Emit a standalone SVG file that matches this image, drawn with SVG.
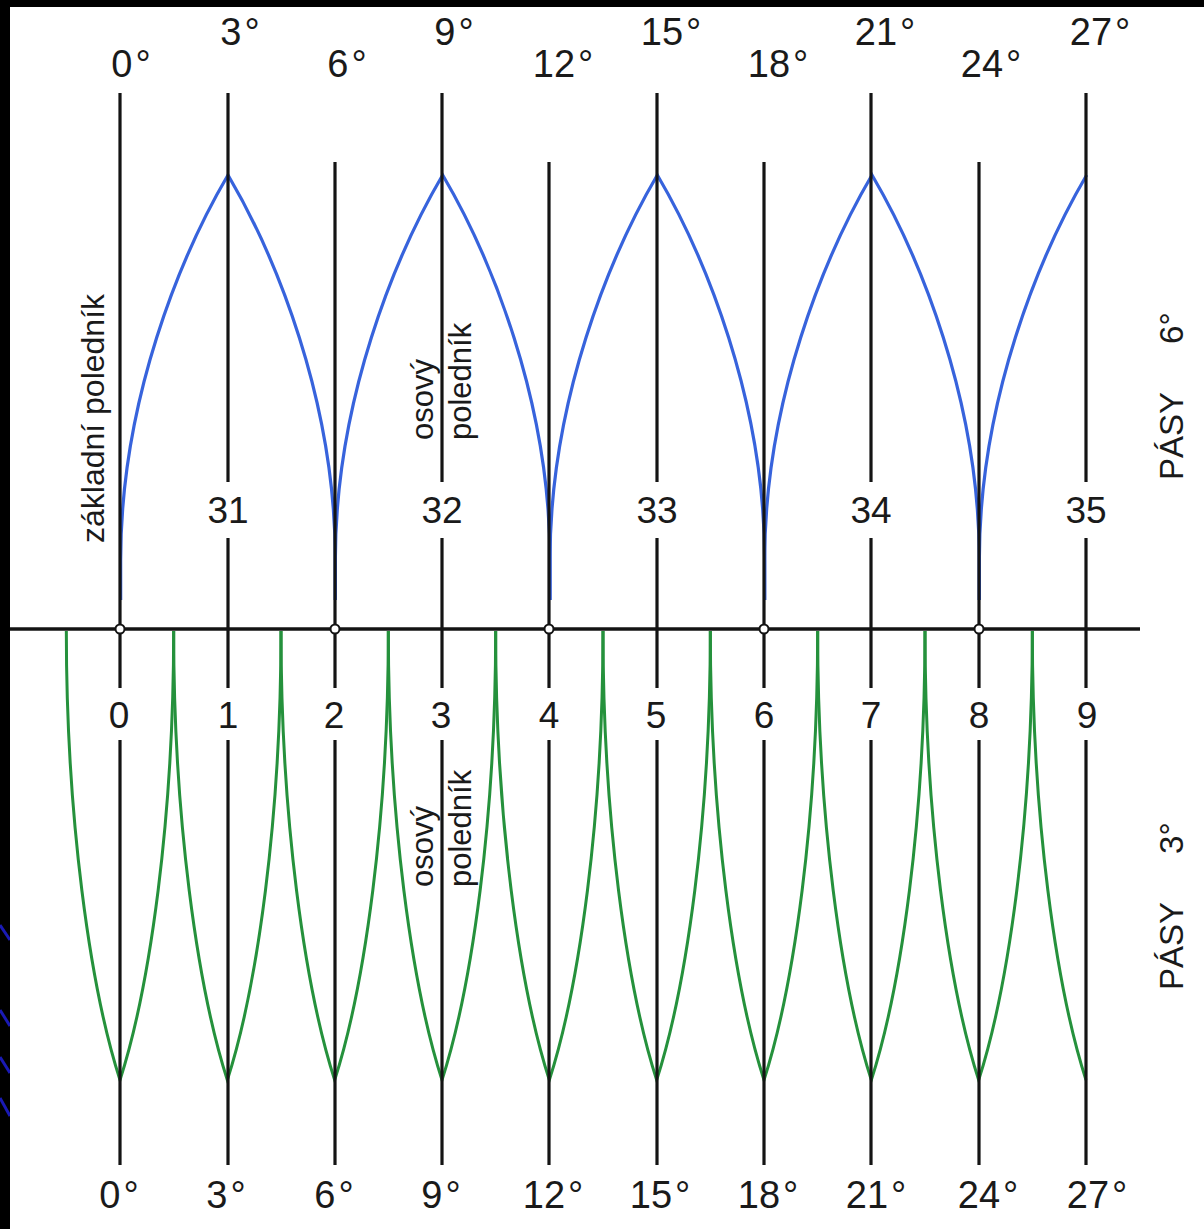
<svg xmlns="http://www.w3.org/2000/svg" xmlns:xlink="http://www.w3.org/1999/xlink" width="1204" height="1229" viewBox="0 0 1204 1229">
<style>
.ln{stroke:#141414;stroke-width:3.2;fill:none}
.ax{stroke:#141414;stroke-width:3.6;fill:none}
.bl{stroke:#3763dc;stroke-width:3.2;fill:none}
.gr{stroke:#25913c;stroke-width:3;fill:none}
.t{font-family:"Liberation Sans",Arial,sans-serif;fill:#1a1a1a}
.deg{font-size:38px;text-anchor:middle}
.num{font-size:37px;text-anchor:middle}
.vt{font-size:31px}
.dot{fill:#fff;stroke:#141414;stroke-width:2}
.deco{stroke:#1a1ab4;stroke-width:3}
</style>
<defs>
<path id="arch" d="M -107.33 600 L -107.33 560 C -107.33 400 -47 255 0 175 C 47 255 107.33 400 107.33 560 L 107.33 600"/>
<path id="archL" d="M -107.33 600 L -107.33 560 C -107.33 400 -47 255 0 175"/>
<path id="vee" d="M -53.67 631 C -53.67 818 -30 987 0 1080 C 30 987 53.67 818 53.67 631"/>
<path id="veeL" d="M -53.67 631 C -53.67 818 -30 987 0 1080"/>
</defs>
<rect x="0" y="0" width="1204" height="1229" fill="#000"/>
<g id="deco">
<line class="deco" x1="0" y1="925" x2="10" y2="940"/>
<line class="deco" x1="0" y1="1010" x2="10" y2="1026"/>
<line class="deco" x1="0" y1="1057" x2="10" y2="1073"/>
<line class="deco" x1="0" y1="1098" x2="10" y2="1116"/>
</g>
<rect x="10" y="7" width="1194" height="1222" fill="#fff"/>

<g id="connectors">
<!-- blue 6° zone boundaries -->
<use href="#arch" class="bl" transform="translate(228 0)"/>
<use href="#arch" class="bl" transform="translate(442.67 0)"/>
<use href="#arch" class="bl" transform="translate(657.33 0)"/>
<use href="#arch" class="bl" transform="translate(872 0)"/>
<use href="#archL" class="bl" transform="translate(1086.67 0)"/>
<!-- green 3° zone boundaries -->
<use href="#vee" class="gr" transform="translate(120 0)"/>
<use href="#vee" class="gr" transform="translate(227.33 0)"/>
<use href="#vee" class="gr" transform="translate(334.67 0)"/>
<use href="#vee" class="gr" transform="translate(442 0)"/>
<use href="#vee" class="gr" transform="translate(549.33 0)"/>
<use href="#vee" class="gr" transform="translate(656.67 0)"/>
<use href="#vee" class="gr" transform="translate(764 0)"/>
<use href="#vee" class="gr" transform="translate(871.33 0)"/>
<use href="#vee" class="gr" transform="translate(978.67 0)"/>
<use href="#veeL" class="gr" transform="translate(1086 0)"/>
<!-- upper vertical meridians -->
<line class="ln" x1="120" y1="93" x2="120" y2="629"/>
<line class="ln" x1="228" y1="93" x2="228" y2="482"/><line class="ln" x1="228" y1="538" x2="228" y2="629"/>
<line class="ln" x1="335" y1="162" x2="335" y2="629"/>
<line class="ln" x1="442" y1="93" x2="442" y2="482"/><line class="ln" x1="442" y1="538" x2="442" y2="629"/>
<line class="ln" x1="549" y1="162" x2="549" y2="629"/>
<line class="ln" x1="657" y1="93" x2="657" y2="482"/><line class="ln" x1="657" y1="538" x2="657" y2="629"/>
<line class="ln" x1="764" y1="162" x2="764" y2="629"/>
<line class="ln" x1="871" y1="93" x2="871" y2="482"/><line class="ln" x1="871" y1="538" x2="871" y2="629"/>
<line class="ln" x1="979" y1="162" x2="979" y2="629"/>
<line class="ln" x1="1086" y1="93" x2="1086" y2="482"/><line class="ln" x1="1086" y1="538" x2="1086" y2="629"/>
<!-- lower ticks and meridians -->
<line class="ln" x1="120" y1="629" x2="120" y2="688"/><line class="ln" x1="120" y1="740" x2="120" y2="1165"/>
<line class="ln" x1="228" y1="629" x2="228" y2="688"/><line class="ln" x1="228" y1="740" x2="228" y2="1165"/>
<line class="ln" x1="335" y1="629" x2="335" y2="688"/><line class="ln" x1="335" y1="740" x2="335" y2="1165"/>
<line class="ln" x1="442" y1="629" x2="442" y2="688"/><line class="ln" x1="442" y1="740" x2="442" y2="1165"/>
<line class="ln" x1="549" y1="629" x2="549" y2="688"/><line class="ln" x1="549" y1="740" x2="549" y2="1165"/>
<line class="ln" x1="657" y1="629" x2="657" y2="688"/><line class="ln" x1="657" y1="740" x2="657" y2="1165"/>
<line class="ln" x1="764" y1="629" x2="764" y2="688"/><line class="ln" x1="764" y1="740" x2="764" y2="1165"/>
<line class="ln" x1="871" y1="629" x2="871" y2="688"/><line class="ln" x1="871" y1="740" x2="871" y2="1165"/>
<line class="ln" x1="979" y1="629" x2="979" y2="688"/><line class="ln" x1="979" y1="740" x2="979" y2="1165"/>
<line class="ln" x1="1086" y1="629" x2="1086" y2="688"/><line class="ln" x1="1086" y1="740" x2="1086" y2="1165"/>
<!-- equator axis -->
<line class="ax" x1="10" y1="629" x2="1140" y2="629"/>
<circle class="dot" cx="120" cy="629" r="4.5"/>
<circle class="dot" cx="335" cy="629" r="4.5"/>
<circle class="dot" cx="549" cy="629" r="4.5"/>
<circle class="dot" cx="764" cy="629" r="4.5"/>
<circle class="dot" cx="979" cy="629" r="4.5"/>
</g>

<g id="top-labels" class="t deg">
<text x="131" y="77">0<tspan dx="3">°</tspan></text>
<text x="240" y="45">3<tspan dx="3">°</tspan></text>
<text x="347" y="77">6<tspan dx="3">°</tspan></text>
<text x="454" y="45">9<tspan dx="3">°</tspan></text>
<text x="563" y="77">12<tspan dx="3">°</tspan></text>
<text x="671" y="45">15<tspan dx="3">°</tspan></text>
<text x="778" y="77">18<tspan dx="3">°</tspan></text>
<text x="885" y="45">21<tspan dx="3">°</tspan></text>
<text x="991" y="77">24<tspan dx="3">°</tspan></text>
<text x="1100" y="45">27<tspan dx="3">°</tspan></text>
</g>

<g id="zone6-numbers" class="t num">
<text x="228" y="523">31</text>
<text x="442" y="523">32</text>
<text x="657" y="523">33</text>
<text x="871" y="523">34</text>
<text x="1086" y="523">35</text>
</g>

<g id="zone3-numbers" class="t num">
<text x="119" y="728">0</text>
<text x="228" y="728">1</text>
<text x="334" y="728">2</text>
<text x="441" y="728">3</text>
<text x="549" y="728">4</text>
<text x="656" y="728">5</text>
<text x="764" y="728">6</text>
<text x="871" y="728">7</text>
<text x="979" y="728">8</text>
<text x="1087" y="728">9</text>
</g>

<g id="bottom-labels" class="t deg">
<text x="119" y="1208">0<tspan dx="3">°</tspan></text>
<text x="226" y="1208">3<tspan dx="3">°</tspan></text>
<text x="334" y="1208">6<tspan dx="3">°</tspan></text>
<text x="441" y="1208">9<tspan dx="3">°</tspan></text>
<text x="553" y="1208">12<tspan dx="3">°</tspan></text>
<text x="660" y="1208">15<tspan dx="3">°</tspan></text>
<text x="768" y="1208">18<tspan dx="3">°</tspan></text>
<text x="876" y="1208">21<tspan dx="3">°</tspan></text>
<text x="988" y="1208">24<tspan dx="3">°</tspan></text>
<text x="1097" y="1208">27<tspan dx="3">°</tspan></text>
</g>

<g id="meridian-labels" class="t vt">
<text transform="translate(104 543) rotate(-90)" font-size="32">základní poledník</text>
<text transform="translate(433 440) rotate(-90)">osový</text>
<text transform="translate(471 440) rotate(-90)">poledník</text>
<text transform="translate(433 887) rotate(-90)">osový</text>
<text transform="translate(471 887) rotate(-90)">poledník</text>
</g>

<g id="zone-titles" class="t" font-size="33">
<text transform="translate(1183 480) rotate(-90)">PÁSY<tspan dx="48">6°</tspan></text>
<text transform="translate(1183 990) rotate(-90)">PÁSY<tspan dx="48">3°</tspan></text>
</g>
</svg>
